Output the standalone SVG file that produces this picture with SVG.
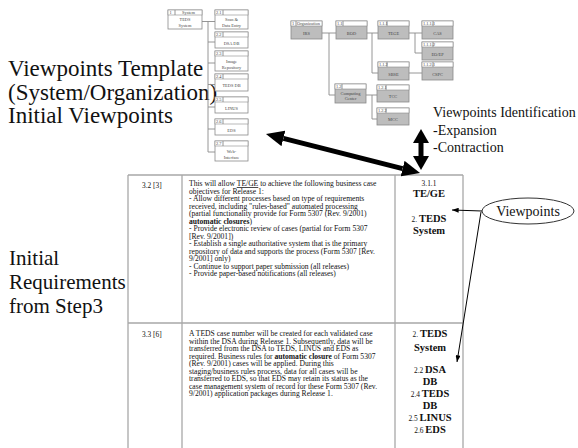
<svg xmlns="http://www.w3.org/2000/svg" width="578" height="448" viewBox="0 0 578 448" font-family="'Liberation Serif', 'DejaVu Serif', serif">
  <style>
    text { font-family: "Liberation Serif", "DejaVu Serif", serif; fill: #111; }
    .big { font-size: 23px; }
    .big2 { font-size: 21px; }
    .mid { font-size: 14px; }
    .body { font-size: 7.6px; }
    .num { font-size: 7.4px; }
    .bold { font-size: 10.5px; font-weight: bold; }
    .tiny { font-size: 4.4px; fill: #444; }
    .tinyc { font-size: 4.4px; fill: #444; text-anchor: middle; }
    .wn { fill: #fff; stroke: #8a8a8a; stroke-width: 0.8; }
    .gn { fill: #bdbdbd; stroke: #8a8a8a; stroke-width: 0.8; }
    .hd { fill: #fff; stroke: #8a8a8a; stroke-width: 0.6; }
    .tree { fill: none; stroke: #8a8a8a; stroke-width: 0.9; }
    .grid { fill: none; stroke: #a8a8a8; stroke-width: 1.3; }
    .thick { fill: none; stroke: #000; stroke-width: 5; }
    .thin { fill: none; stroke: #000; stroke-width: 1; }
    .c3 { text-anchor: middle; }
  </style>
  <defs>
    <marker id="headDiag" viewBox="0 0 18 16" refX="0" refY="8" markerWidth="18" markerHeight="16" markerUnits="userSpaceOnUse" orient="auto-start-reverse">
      <path d="M0,0 L18,8 L0,16 z" fill="#000"/>
    </marker>
    <marker id="headVert" viewBox="0 0 14 16" refX="0" refY="8" markerWidth="14" markerHeight="16" markerUnits="userSpaceOnUse" orient="auto-start-reverse">
      <path d="M0,0 L14,8 L0,16 z" fill="#000"/>
    </marker>
    <marker id="headSmall" viewBox="0 0 8 6" refX="8" refY="3" markerWidth="7" markerHeight="5" markerUnits="userSpaceOnUse" orient="auto">
      <path d="M0,0 L8,3 L0,6 z" fill="#000"/>
    </marker>
  </defs>

  <rect width="578" height="448" fill="#fff"/>

  <!-- headings -->
  <g id="heading-template">
    <text class="big" x="8" y="76">Viewpoints Template</text>
    <text class="big" x="8" y="100">(System/Organization)</text>
    <text class="big" x="8" y="123">Initial Viewpoints</text>
  </g>
  <g id="heading-identification">
    <text class="mid" x="433" y="117">Viewpoints Identification</text>
    <text class="mid" x="433" y="135">-Expansion</text>
    <text class="mid" x="433" y="152">-Contraction</text>
  </g>
  <g id="heading-requirements">
    <text class="big2" x="9" y="265">Initial</text>
    <text class="big2" x="9" y="289">Requirements</text>
    <text class="big2" x="9" y="313">from Step3</text>
  </g>

  <!-- system tree -->
  <g id="system-tree-links">
    <path class="tree" d="M202,21.5 H208 M208,21.5 V152 M208,21.5 H215 M208,42 H215 M208,63 H215 M208,84.5 H215 M208,107 H215 M208,129 H215 M208,152 H215"/>
  </g>
  <g id="sys-1">
    <rect class="wn" x="168" y="10" width="34" height="19"/>
    <rect class="hd" x="168" y="10" width="34" height="5"/>
    <line class="tree" x1="175" y1="10" x2="175" y2="15"/>
    <text class="tiny" x="169.5" y="14">1</text>
    <text class="tinyc" x="188.5" y="14">System</text>
    <text class="tinyc" x="185" y="21">TEDS</text>
    <text class="tinyc" x="185" y="26.5">System</text>
  </g>
  <g id="sys-2-1">
    <rect class="wn" x="215" y="10" width="33" height="19"/>
    <rect class="hd" x="215" y="10" width="33" height="5"/>
    <line class="tree" x1="223" y1="10" x2="223" y2="15"/>
    <text class="tiny" x="216" y="14">2.1</text>
    <text class="tinyc" x="231.5" y="21">Scan &amp;</text>
    <text class="tinyc" x="231.5" y="26.5">Data Entry</text>
  </g>
  <g id="sys-2-2">
    <rect class="wn" x="215" y="32" width="33" height="16"/>
    <rect class="hd" x="215" y="32" width="33" height="5"/>
    <line class="tree" x1="223" y1="32" x2="223" y2="37"/>
    <text class="tiny" x="216" y="36">2.2</text>
    <text class="tinyc" x="231.5" y="44.5">DSA DB</text>
  </g>
  <g id="sys-2-3">
    <rect class="wn" x="215" y="51" width="33" height="20"/>
    <rect class="hd" x="215" y="51" width="33" height="5"/>
    <line class="tree" x1="223" y1="51" x2="223" y2="56"/>
    <text class="tiny" x="216" y="55">2.3</text>
    <text class="tinyc" x="231.5" y="62.5">Image</text>
    <text class="tinyc" x="231.5" y="68.5">Repository</text>
  </g>
  <g id="sys-2-4">
    <rect class="wn" x="215" y="74" width="33" height="17"/>
    <rect class="hd" x="215" y="74" width="33" height="5"/>
    <line class="tree" x1="223" y1="74" x2="223" y2="79"/>
    <text class="tiny" x="216" y="78">2.4</text>
    <text class="tinyc" x="231.5" y="87">TEDS DB</text>
  </g>
  <g id="sys-2-5">
    <rect class="wn" x="215" y="97" width="33" height="16"/>
    <rect class="hd" x="215" y="97" width="33" height="5"/>
    <line class="tree" x1="223" y1="97" x2="223" y2="102"/>
    <text class="tiny" x="216" y="101">2.5</text>
    <text class="tinyc" x="231.5" y="109.5">LINUS</text>
  </g>
  <g id="sys-2-6">
    <rect class="wn" x="215" y="119" width="33" height="16"/>
    <rect class="hd" x="215" y="119" width="33" height="5"/>
    <line class="tree" x1="223" y1="119" x2="223" y2="124"/>
    <text class="tiny" x="216" y="123">2.6</text>
    <text class="tinyc" x="231.5" y="131.5">EDS</text>
  </g>
  <g id="sys-2-7">
    <rect class="wn" x="215" y="141" width="33" height="20"/>
    <rect class="hd" x="215" y="141" width="33" height="5"/>
    <line class="tree" x1="223" y1="141" x2="223" y2="146"/>
    <text class="tiny" x="216" y="145">2.7</text>
    <text class="tinyc" x="231.5" y="152.5">Web-</text>
    <text class="tinyc" x="231.5" y="158.5">Interface</text>
  </g>

  <!-- organization tree -->
  <g id="org-tree-links">
    <path class="tree" d="M322,33 H336 M329,33 V95 H335 M367,33 H378 M372,33 V73 H378 M409,33 H422 M415,33 V53 H422 M409,73 H422 M366,95 H377 M372,95 V119 H377"/>
  </g>
  <g id="org-1">
    <rect class="gn" x="291" y="21" width="31" height="18"/>
    <rect class="hd" x="291" y="21" width="31" height="5"/>
    <line class="tree" x1="296" y1="21" x2="296" y2="26"/>
    <text class="tiny" x="292" y="25">1</text>
    <text class="tiny" x="297" y="25">Organization</text>
    <text class="tinyc" x="306.5" y="34.5">IRS</text>
  </g>
  <g id="org-1-1">
    <rect class="gn" x="336" y="21" width="31" height="18"/>
    <rect class="hd" x="336" y="21" width="31" height="5"/>
    <line class="tree" x1="343" y1="21" x2="343" y2="26"/>
    <text class="tiny" x="337" y="25">1.1</text>
    <text class="tinyc" x="351.5" y="34.5">BOD</text>
  </g>
  <g id="org-1-1-1">
    <rect class="gn" x="378" y="21" width="31" height="18"/>
    <rect class="hd" x="378" y="21" width="31" height="5"/>
    <line class="tree" x1="387" y1="21" x2="387" y2="26"/>
    <text class="tiny" x="379" y="25">1.1.1</text>
    <text class="tinyc" x="393.5" y="34.5">TEGE</text>
  </g>
  <g id="org-1-1-1-1">
    <rect class="gn" x="422" y="21" width="31" height="18"/>
    <rect class="hd" x="422" y="21" width="31" height="5"/>
    <line class="tree" x1="433" y1="21" x2="433" y2="26"/>
    <text class="tiny" x="423" y="25">1.1.1.1</text>
    <text class="tinyc" x="437.5" y="34.5">CAS</text>
  </g>
  <g id="org-1-1-1-2">
    <rect class="gn" x="422" y="42" width="31" height="18"/>
    <rect class="hd" x="422" y="42" width="31" height="5"/>
    <line class="tree" x1="433" y1="42" x2="433" y2="47"/>
    <text class="tiny" x="423" y="46">1.1.1.2</text>
    <text class="tinyc" x="437.5" y="55.5">EO/EP</text>
  </g>
  <g id="org-1-1-2">
    <rect class="gn" x="378" y="62" width="31" height="18"/>
    <rect class="hd" x="378" y="62" width="31" height="5"/>
    <line class="tree" x1="387" y1="62" x2="387" y2="67"/>
    <text class="tiny" x="379" y="66">1.1.2</text>
    <text class="tinyc" x="393.5" y="75.5">SBSE</text>
  </g>
  <g id="org-1-1-2-1">
    <rect class="gn" x="422" y="62" width="31" height="18"/>
    <rect class="hd" x="422" y="62" width="31" height="5"/>
    <line class="tree" x1="433" y1="62" x2="433" y2="67"/>
    <text class="tiny" x="423" y="66">1.1.2.1</text>
    <text class="tinyc" x="437.5" y="75.5">CSPC</text>
  </g>
  <g id="org-1-2">
    <rect class="gn" x="335" y="84" width="31" height="19"/>
    <rect class="hd" x="335" y="84" width="31" height="5"/>
    <line class="tree" x1="342" y1="84" x2="342" y2="89"/>
    <text class="tiny" x="336" y="88">1.2</text>
    <text class="tinyc" x="350.5" y="94.5">Computing</text>
    <text class="tinyc" x="350.5" y="100">Center</text>
  </g>
  <g id="org-1-2-1">
    <rect class="gn" x="377" y="85" width="32" height="17"/>
    <rect class="hd" x="377" y="85" width="32" height="5"/>
    <line class="tree" x1="386" y1="85" x2="386" y2="90"/>
    <text class="tiny" x="378" y="89">1.2.1</text>
    <text class="tinyc" x="393" y="98">TCC</text>
  </g>
  <g id="org-1-2-2">
    <rect class="gn" x="377" y="108" width="32" height="17"/>
    <rect class="hd" x="377" y="108" width="32" height="5"/>
    <line class="tree" x1="386" y1="108" x2="386" y2="113"/>
    <text class="tiny" x="378" y="112">1.2.2</text>
    <text class="tinyc" x="393" y="121">MCC</text>
  </g>

  <!-- requirements table -->
  <g id="req-table">
    <path class="grid" d="M128,175 H463 M128,323 H463 M128,175 V449 M182,175 V449 M395,175 V449 M463,175 V449"/>
  </g>
  <g id="req-3-2">
    <text class="num" x="142" y="188">3.2 [3]</text>
    <text class="body" x="189" y="186">This will allow <tspan text-decoration="underline">TE/GE</tspan> to achieve the following business case</text>
    <text class="body" x="189" y="193.5">objectives for Release 1:</text>
    <text class="body" x="189" y="201">- Allow different processes based on type of requirements</text>
    <text class="body" x="189" y="208.5">received, including "rules-based" automated processing</text>
    <text class="body" x="189" y="216">(partial functionality provide for Form 5307 (Rev. 9/2001)</text>
    <text class="body" x="189" y="223.5"><tspan font-weight="bold">automatic closures</tspan>)</text>
    <text class="body" x="189" y="231">- Provide electronic review of cases (partial for Form 5307</text>
    <text class="body" x="189" y="238.5">[Rev. 9/2001])</text>
    <text class="body" x="189" y="246">- Establish a single authoritative system that is the primary</text>
    <text class="body" x="189" y="253.5">repository of data and supports the process (Form 5307 [Rev.</text>
    <text class="body" x="189" y="261">9/2001] only)</text>
    <text class="body" x="189" y="268.5">- Continue to support paper submission (all releases)</text>
    <text class="body" x="189" y="276">- Provide paper-based notifications (all releases)</text>
    <text class="num c3" x="429" y="185.5">3.1.1</text>
    <text class="bold c3" x="429" y="197">TE/GE</text>
    <text class="bold c3" x="429" y="221.5"><tspan class="num" font-weight="normal">2. </tspan>TEDS</text>
    <text class="bold c3" x="429" y="233.5">System</text>
  </g>
  <g id="req-3-3">
    <text class="num" x="142" y="337">3.3 [6]</text>
    <text class="body" x="189" y="336">A TEDS case number will be created for each validated case</text>
    <text class="body" x="189" y="343.5">within the DSA during Release 1.  Subsequently, data will be</text>
    <text class="body" x="189" y="351">transferred from the DSA to TEDS, LINUS and EDS as</text>
    <text class="body" x="189" y="358.5">required. Business rules for <tspan font-weight="bold">automatic closure</tspan> of Form 5307</text>
    <text class="body" x="189" y="366">(Rev. 9/2001) cases will be applied.  During this</text>
    <text class="body" x="189" y="373.5">staging/business rules process, data for all cases will be</text>
    <text class="body" x="189" y="381">transferred to EDS, so that EDS may retain its status as the</text>
    <text class="body" x="189" y="388.5">case management system of record for these Form 5307 (Rev.</text>
    <text class="body" x="189" y="396">9/2001) application packages during Release 1.</text>
    <text class="bold c3" x="430" y="336.5"><tspan class="num" font-weight="normal">2. </tspan>TEDS</text>
    <text class="bold c3" x="430" y="350.5">System</text>
    <text class="bold c3" x="430" y="372.5"><tspan class="num" font-weight="normal">2.2 </tspan>DSA</text>
    <text class="bold c3" x="430" y="384.5">DB</text>
    <text class="bold c3" x="430" y="396.5"><tspan class="num" font-weight="normal">2.4 </tspan>TEDS</text>
    <text class="bold c3" x="430" y="408.5">DB</text>
    <text class="bold c3" x="430" y="420.5"><tspan class="num" font-weight="normal">2.5 </tspan>LINUS</text>
    <text class="bold c3" x="430" y="432.5"><tspan class="num" font-weight="normal">2.6 </tspan>EDS</text>
  </g>

  <!-- viewpoints callout -->
  <g id="viewpoints">
    <ellipse cx="528" cy="211" rx="46" ry="13" fill="#fff" stroke="#333" stroke-width="1"/>
    <text x="528" y="215.5" font-size="14" text-anchor="middle">Viewpoints</text>
  </g>

  <!-- connectors -->
  <g id="connectors">
    <line class="thick" x1="283.4" y1="138.4" x2="402.6" y2="168.6" marker-start="url(#headDiag)" marker-end="url(#headDiag)"/>
    <line class="thick" x1="421" y1="143" x2="421" y2="156" marker-start="url(#headVert)" marker-end="url(#headVert)"/>
    <line class="thin" x1="482" y1="211" x2="452" y2="210" marker-end="url(#headSmall)"/>
    <line class="thin" x1="481" y1="212" x2="457" y2="362" marker-end="url(#headSmall)"/>
  </g>
</svg>
